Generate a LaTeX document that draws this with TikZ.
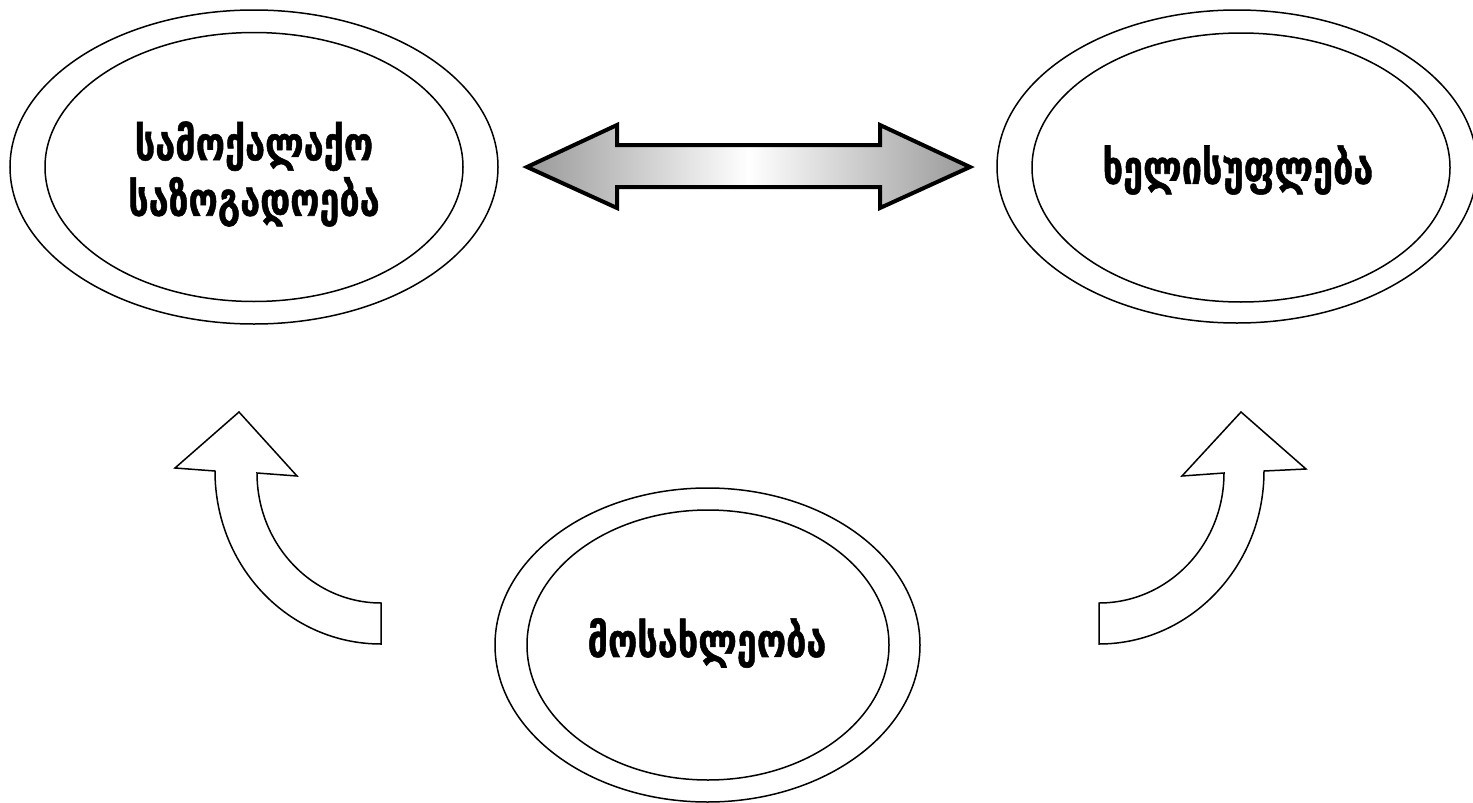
\documentclass[tikz,border=0pt]{standalone}
\usepackage{fontspec}
\newfontfamily\geo[FakeBold=1.2]{DejaVu Sans Bold}
\newcommand{\tallgeo}[1]{\scalebox{1}[1.3]{#1}}
\begin{document}
\begin{tikzpicture}[x=0.5pt,y=-0.5pt,
  ring/.style={line width=0.75pt},
  lbl/.style={font=\geo\fontsize{18}{24}\selectfont, align=center, inner sep=0pt},
  blockarrow/.style={line width=2pt, line join=miter, draw=black, left color=black!40, right color=black!40, middle color=white},
  curvedarrow/.style={line width=0.75pt, draw=black, fill=white, line join=miter}]
\useasboundingbox (0,0) rectangle (1473,803);
% ellipses
\coordinate (cA) at (254,167);
\coordinate (cB) at (1237,166.5);
\coordinate (cC) at (707.5,645);
\draw[ring] (cA) ellipse [x radius=244, y radius=157];
\draw[ring] (cA) ellipse [x radius=209, y radius=134.5];
\draw[ring] (cB) ellipse [x radius=240, y radius=156.5];
\draw[ring] (1241,167.5) ellipse [x radius=209, y radius=134.5];
\draw[ring] (cC) ellipse [x radius=212.5, y radius=157];
\draw[ring] (708,645) ellipse [x radius=181, y radius=135];
% labels
\node[lbl] (civ) at (254,174) {\tallgeo{სამოქალაქო}\\[2pt]\tallgeo{საზოგადოება}};
\node[lbl] (gov) at (1238,170) {\tallgeo{ხელისუფლება}};
\node[lbl] (pop) at (707,643) {\tallgeo{მოსახლეობა}};
% double arrow
\path[blockarrow] (527,167) -- (617,125) -- (617,145) -- (880,145) -- (880,125) -- (970,167) -- (880,208) -- (880,187) -- (617,187) -- (617,208) -- cycle;
% curved arrows
\draw[curvedarrow] (239,412) -- (297,476) -- (257,473) .. controls (257,545) and (313,603) .. (381,603) -- (381,644) .. controls (289,644) and (215,567) .. (215,471) -- (175,468) -- cycle;
\draw[curvedarrow] (1241,412) -- (1306,469) -- (1264,471) .. controls (1264,566.5) and (1190,644) .. (1099,644) -- (1099,603) .. controls (1168,603) and (1224,545) .. (1224,473) -- (1182,476) -- cycle;
\end{tikzpicture}
\end{document}
